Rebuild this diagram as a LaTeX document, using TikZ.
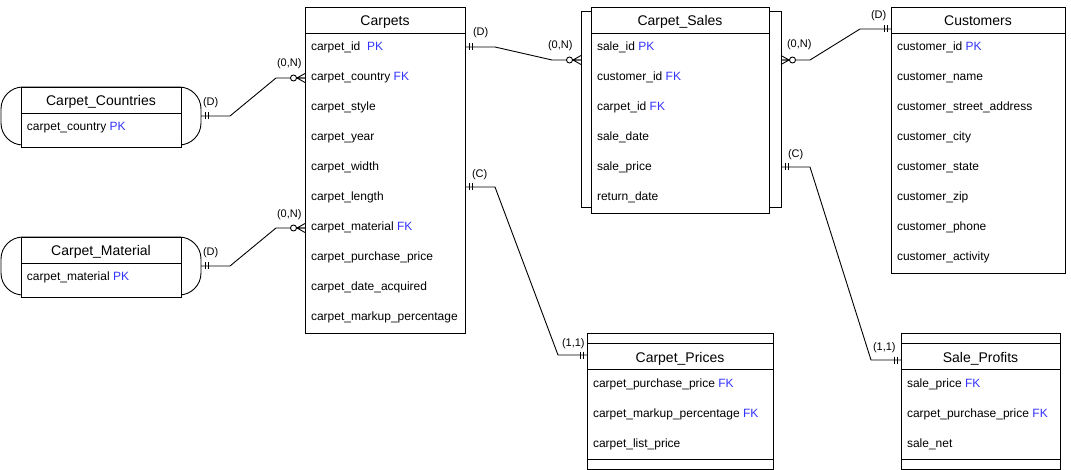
\documentclass[tikz,border=0pt]{standalone}
\usepackage{fontspec}
\setmainfont{Liberation Sans}
\usepackage{tikz}
\usetikzlibrary{positioning}
\definecolor{keyblue}{RGB}{51,51,255}
\newcommand{\keyPK}{\textcolor{keyblue}{PK}}
\newcommand{\keyFK}{\textcolor{keyblue}{FK}}

\begin{document}
\begin{tikzpicture}[x=1pt, y=-1pt, line width=0.9pt, every node/.style={inner sep=0pt, outer sep=0pt},
  ent/.style={draw, fill=white, anchor=north west},
  weak/.style={draw, anchor=north west},
  title/.style={anchor=base, font=\fontsize{14}{16}\selectfont},
  attr/.style={anchor=base west, font=\fontsize{12}{14}\selectfont},
  card/.style={anchor=base west, font=\fontsize{11}{13}\selectfont},
  one/.pic={\draw (4,-3.5) -- (4,3.5) (7,-3.5) -- (7,3.5);},
  zeromany/.pic={\draw (0,-4.5) -- (8,0) -- (0,4.5) (0,0) -- (8,0); \draw[fill=white] (11.5,0) circle (3);}]
  \useasboundingbox (0,0) rectangle (1071,470);

  \node[weak, rounded corners=22pt, minimum width=200pt, minimum height=58pt] (countries-wk) at (1,87) {};
  \node[ent, minimum width=160pt, minimum height=60pt] (countries) at (21,87) {};
  \draw ([yshift=-26pt]countries.north west) -- ([yshift=-26pt]countries.north east);
  \node[title] (countries-t) at ([yshift=-19pt]countries.north) {Carpet\_Countries};
  \node[attr] (countries-1) at (27,131) {carpet\_country \keyPK};

  \node[weak, rounded corners=22pt, minimum width=200pt, minimum height=58pt] (material-wk) at (1,237) {};
  \node[ent, minimum width=160pt, minimum height=60pt] (material) at (21,237) {};
  \draw ([yshift=-26pt]material.north west) -- ([yshift=-26pt]material.north east);
  \node[title] (material-t) at ([yshift=-19pt]material.north) {Carpet\_Material};
  \node[attr] (material-1) at (27,281) {carpet\_material \keyPK};

  \node[ent, minimum width=160pt, minimum height=326pt] (carpets) at (305,7) {};
  \draw ([yshift=-26pt]carpets.north west) -- ([yshift=-26pt]carpets.north east);
  \node[title] (carpets-t) at ([yshift=-19pt]carpets.north) {Carpets};
  \foreach \txt [count=\i] in {carpet\_id\ \ \keyPK, carpet\_country \keyFK, carpet\_style, carpet\_year,
      carpet\_width, carpet\_length, carpet\_material \keyFK, carpet\_purchase\_price,
      carpet\_date\_acquired, carpet\_markup\_percentage}
    \node[attr] (carpets-\i) at (311, 21+30*\i) {\txt};

  \node[weak, minimum width=200pt, minimum height=196pt] (sales-wk) at (581,11) {};
  \node[ent, minimum width=178pt, minimum height=206pt] (sales) at (591,7) {};
  \draw ([yshift=-26pt]sales.north west) -- ([yshift=-26pt]sales.north east);
  \node[title] (sales-t) at ([yshift=-19pt]sales.north) {Carpet\_Sales};
  \foreach \txt [count=\i] in {sale\_id \keyPK, customer\_id \keyFK, carpet\_id \keyFK,
      sale\_date, sale\_price, return\_date}
    \node[attr] (sales-\i) at (597, 21+30*\i) {\txt};

  \node[ent, minimum width=174pt, minimum height=266pt] (customers) at (891,7) {};
  \draw ([yshift=-26pt]customers.north west) -- ([yshift=-26pt]customers.north east);
  \node[title] (customers-t) at ([yshift=-19pt]customers.north) {Customers};
  \foreach \txt [count=\i] in {customer\_id \keyPK, customer\_name, customer\_street\_address,
      customer\_city, customer\_state, customer\_zip, customer\_phone, customer\_activity}
    \node[attr] (customers-\i) at (897, 21+30*\i) {\txt};

  \node[ent, minimum width=186pt, minimum height=136pt] (prices) at (587,333) {};
  \draw ([yshift=-10pt]prices.north west) -- ([yshift=-10pt]prices.north east);
  \draw ([yshift=-36pt]prices.north west) -- ([yshift=-36pt]prices.north east);
  \draw ([yshift=-126pt]prices.north west) -- ([yshift=-126pt]prices.north east);
  \node[title] (prices-t) at ([yshift=-29pt]prices.north) {Carpet\_Prices};
  \foreach \txt [count=\i] in {carpet\_purchase\_price \keyFK, carpet\_markup\_percentage \keyFK, carpet\_list\_price}
    \node[attr] (prices-\i) at (593, 357+30*\i) {\txt};

  \node[ent, minimum width=159pt, minimum height=136pt] (profits) at (901,333) {};
  \draw ([yshift=-10pt]profits.north west) -- ([yshift=-10pt]profits.north east);
  \draw ([yshift=-36pt]profits.north west) -- ([yshift=-36pt]profits.north east);
  \draw ([yshift=-126pt]profits.north west) -- ([yshift=-126pt]profits.north east);
  \node[title] (profits-t) at ([yshift=-29pt]profits.north) {Sale\_Profits};
  \foreach \txt [count=\i] in {sale\_price \keyFK, carpet\_purchase\_price \keyFK, sale\_net}
    \node[attr] (profits-\i) at (907, 357+30*\i) {\txt};

  \draw (countries-wk.east) -- (230,116) -- (276,78) -- (carpets.west |- 0,78);
  \pic at (countries-wk.east) {one};
  \pic[xscale=-1] at (carpets.west |- 0,78) {zeromany};
  \node[card] (countries-d) at (203,106) {(D)};
  \node[card] (countries-n) at (277,67) {(0,N)};

  \draw (material-wk.east) -- (230,266) -- (276,228) -- (carpets.west |- 0,228);
  \pic at (material-wk.east) {one};
  \pic[xscale=-1] at (carpets.west |- 0,228) {zeromany};
  \node[card] (material-d) at (203,256) {(D)};
  \node[card] (material-n) at (277,218) {(0,N)};

  \draw (carpets.east |- 0,47) -- (495,47) -- (552,60) -- (sales-wk.west |- 0,60);
  \pic at (carpets.east |- 0,47) {one};
  \pic[xscale=-1] at (sales-wk.west |- 0,60) {zeromany};
  \node[card] (carpets-d) at (473,36) {(D)};
  \node[card] (sales-n) at (548,49) {(0,N)};

  \draw (sales-wk.east |- 0,60) -- (810,60) -- (860,29) -- (customers.west |- 0,29);
  \pic at (sales-wk.east |- 0,60) {zeromany};
  \pic[xscale=-1] at (customers.west |- 0,29) {one};
  \node[card] (customers-n) at (787,48) {(0,N)};
  \node[card] (customers-d) at (871,19) {(D)};

  \draw (carpets.east |- 0,187) -- (495,187) -- (558,355) -- (prices.west |- 0,355);
  \pic at (carpets.east |- 0,187) {one};
  \pic[xscale=-1] at (prices.west |- 0,355) {one};
  \node[card] (carpets-c) at (472,178) {(C)};
  \node[card] (prices-o) at (562,346) {(1,1)};

  \draw (sales-wk.east |- 0,167) -- (810,167) -- (871,360) -- (profits.west |- 0,360);
  \pic at (sales-wk.east |- 0,167) {one};
  \pic[xscale=-1] at (profits.west |- 0,360) {one};
  \node[card] (sales-c) at (788,158) {(C)};
  \node[card] (profits-o) at (873,351) {(1,1)};
\end{tikzpicture}
\end{document}
